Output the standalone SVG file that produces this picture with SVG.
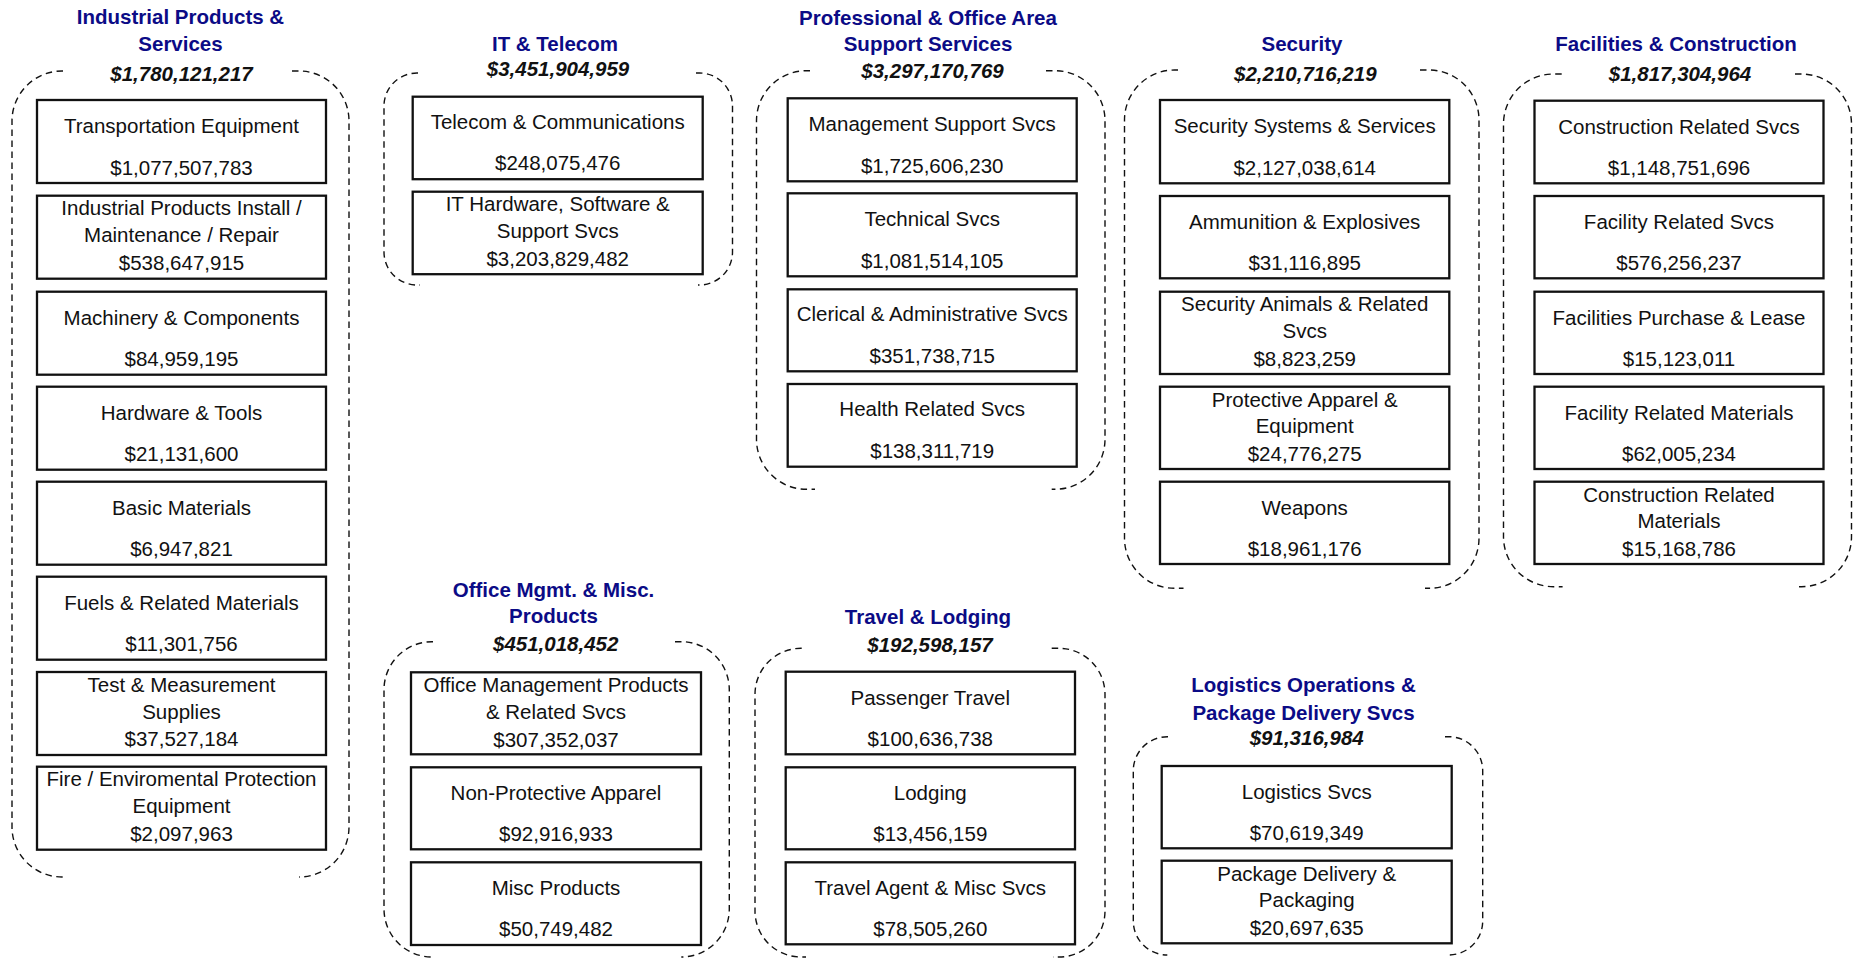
<svg xmlns="http://www.w3.org/2000/svg" width="1853" height="960" viewBox="0 0 1853 960">
<style>
.bg{fill:#fff}
.box{fill:#fff;stroke:#111;stroke-width:2.3}
.dash{fill:none;stroke:#111;stroke-width:1.4;stroke-dasharray:6.5 4.5}
text{font-family:"Liberation Sans",Arial,sans-serif;font-size:20.5px;text-anchor:middle;fill:#111}
.title{font-weight:bold;fill:#0b0b86}
.amt{font-weight:bold;font-style:italic;fill:#111}
</style>
<rect class="bg" x="0" y="0" width="1853" height="960"/>
<g id="connectors"></g>

<!-- Industrial Products & Services -->
<g id="grp-industrial">
<path class="dash" d="M63,71 L62,71 A50,50 0 0 0 12,121 L12,827 A50,50 0 0 0 62,877 L67,877"/>
<path class="dash" d="M292,71 L299,71 A50,50 0 0 1 349,121 L349,827 A50,50 0 0 1 299,877"/>
<text class="title" x="180.5" y="24.3">Industrial Products &amp;</text>
<text class="title" x="180.5" y="50.5">Services</text>
<text class="amt" x="181.5" y="81">$1,780,121,217</text>
</g>
<g id="n-transport"><rect class="box" x="37" y="100" width="289" height="83"/><text x="181.5" y="133.3">Transportation Equipment</text><text x="181.5" y="174.5">$1,077,507,783</text></g>
<g id="n-indinstall"><rect class="box" x="37" y="195.7" width="289" height="83"/><text x="181.5" y="215.2">Industrial Products Install /</text><text x="181.5" y="242.2">Maintenance / Repair</text><text x="181.5" y="269.7">$538,647,915</text></g>
<g id="n-machinery"><rect class="box" x="37" y="291.7" width="289" height="83"/><text x="181.5" y="325">Machinery &amp; Components</text><text x="181.5" y="366.2">$84,959,195</text></g>
<g id="n-hardware"><rect class="box" x="37" y="386.7" width="289" height="83"/><text x="181.5" y="420">Hardware &amp; Tools</text><text x="181.5" y="461.2">$21,131,600</text></g>
<g id="n-basic"><rect class="box" x="37" y="481.7" width="289" height="83"/><text x="181.5" y="515">Basic Materials</text><text x="181.5" y="556.2">$6,947,821</text></g>
<g id="n-fuels"><rect class="box" x="37" y="576.7" width="289" height="83"/><text x="181.5" y="610">Fuels &amp; Related Materials</text><text x="181.5" y="651.2">$11,301,756</text></g>
<g id="n-test"><rect class="box" x="37" y="672" width="289" height="83"/><text x="181.5" y="691.5">Test &amp; Measurement</text><text x="181.5" y="718.5">Supplies</text><text x="181.5" y="746">$37,527,184</text></g>
<g id="n-fire"><rect class="box" x="37" y="766.7" width="289" height="83"/><text x="181.5" y="786.2">Fire / Enviromental Protection</text><text x="181.5" y="813.2">Equipment</text><text x="181.5" y="840.7">$2,097,963</text></g>

<!-- IT & Telecom -->
<g id="grp-it">
<path class="dash" d="M418,73 L417,73 A33,33 0 0 0 384,106 L384,252 A33,33 0 0 0 417,285 L420,285"/>
<path class="dash" d="M696,73 L699.5,73 A33,33 0 0 1 732.5,106 L732.5,252 A33,33 0 0 1 699.5,285 L698,285"/>
<text class="title" x="555" y="50.5">IT &amp; Telecom</text>
<text class="amt" x="558" y="76">$3,451,904,959</text>
</g>
<g id="n-telecom"><rect class="box" x="412.7" y="96.7" width="290" height="82.5"/><text x="557.7" y="128.7">Telecom &amp; Communications</text><text x="557.7" y="170.2">$248,075,476</text></g>
<g id="n-ithw"><rect class="box" x="412.7" y="191.7" width="290" height="82.5"/><text x="557.7" y="211.4">IT Hardware, Software &amp;</text><text x="557.7" y="238.3">Support Svcs</text><text x="557.7" y="265.7">$3,203,829,482</text></g>

<!-- Professional & Office Area Support Services -->
<g id="grp-prof">
<path class="dash" d="M810,70.7 L806.5,70.7 A50,50 0 0 0 756.5,120.7 L756.5,439.3 A50,50 0 0 0 806.5,489.3 L815,489.3"/>
<path class="dash" d="M1046,70.7 L1055,70.7 A50,50 0 0 1 1105,120.7 L1105,439.3 A50,50 0 0 1 1055,489.3 L1051.7,489.3"/>
<text class="title" x="928" y="24.5">Professional &amp; Office Area</text>
<text class="title" x="928" y="50.5">Support Services</text>
<text class="amt" x="932.5" y="77.5">$3,297,170,769</text>
</g>
<g id="n-mgmt"><rect class="box" x="787.7" y="98.3" width="289" height="83"/><text x="932.2" y="130.5">Management Support Svcs</text><text x="932.2" y="173">$1,725,606,230</text></g>
<g id="n-technical"><rect class="box" x="787.7" y="193.3" width="289" height="83"/><text x="932.2" y="225.5">Technical Svcs</text><text x="932.2" y="267.5">$1,081,514,105</text></g>
<g id="n-clerical"><rect class="box" x="787.7" y="289.3" width="289" height="82"/><text x="932.2" y="321.3">Clerical &amp; Administrative Svcs</text><text x="932.2" y="362.5">$351,738,715</text></g>
<g id="n-health"><rect class="box" x="787.7" y="384" width="289" height="82.7"/><text x="932.2" y="416">Health Related Svcs</text><text x="932.2" y="457.5">$138,311,719</text></g>

<!-- Security -->
<g id="grp-security">
<path class="dash" d="M1178,70 L1174.5,70 A50,50 0 0 0 1124.5,120 L1124.5,538.3 A50,50 0 0 0 1174.5,588.3 L1183.5,588.3"/>
<path class="dash" d="M1420,70 L1429,70 A50,50 0 0 1 1479,120 L1479,538.3 A50,50 0 0 1 1429,588.3 L1425,588.3"/>
<text class="title" x="1302" y="50.5">Security</text>
<text class="amt" x="1305.3" y="81">$2,210,716,219</text>
</g>
<g id="n-secsys"><rect class="box" x="1160" y="100" width="289.3" height="83.3"/><text x="1304.7" y="133.3">Security Systems &amp; Services</text><text x="1304.7" y="174.5">$2,127,038,614</text></g>
<g id="n-ammo"><rect class="box" x="1160" y="196" width="289.3" height="82.3"/><text x="1304.7" y="229.3">Ammunition &amp; Explosives</text><text x="1304.7" y="270.3">$31,116,895</text></g>
<g id="n-animals"><rect class="box" x="1160" y="291.7" width="289.3" height="82.3"/><text x="1304.7" y="310.8">Security Animals &amp; Related</text><text x="1304.7" y="337.8">Svcs</text><text x="1304.7" y="365.8">$8,823,259</text></g>
<g id="n-protective"><rect class="box" x="1160" y="386.7" width="289.3" height="82.3"/><text x="1304.7" y="406.5">Protective Apparel &amp;</text><text x="1304.7" y="433.3">Equipment</text><text x="1304.7" y="460.8">$24,776,275</text></g>
<g id="n-weapons"><rect class="box" x="1160" y="481.7" width="289.3" height="82.3"/><text x="1304.7" y="515">Weapons</text><text x="1304.7" y="556">$18,961,176</text></g>

<!-- Facilities & Construction -->
<g id="grp-facilities">
<path class="dash" d="M1561.7,74 L1553.5,74 A50,50 0 0 0 1503.5,124 L1503.5,536.7 A50,50 0 0 0 1553.5,586.7 L1562.6,586.7"/>
<path class="dash" d="M1795,74 L1801.5,74 A50,50 0 0 1 1851.5,124 L1851.5,536.7 A50,50 0 0 1 1801.5,586.7 L1795,586.7"/>
<text class="title" x="1676" y="50.5">Facilities &amp; Construction</text>
<text class="amt" x="1680" y="81">$1,817,304,964</text>
</g>
<g id="n-constsvcs"><rect class="box" x="1534.5" y="100.7" width="289" height="82.6"/><text x="1679" y="133.5">Construction Related Svcs</text><text x="1679" y="174.7">$1,148,751,696</text></g>
<g id="n-facsvcs"><rect class="box" x="1534.5" y="196" width="289" height="82.3"/><text x="1679" y="229.3">Facility Related Svcs</text><text x="1679" y="270.3">$576,256,237</text></g>
<g id="n-facpurch"><rect class="box" x="1534.5" y="291.7" width="289" height="82.3"/><text x="1679" y="325">Facilities Purchase &amp; Lease</text><text x="1679" y="366">$15,123,011</text></g>
<g id="n-facmat"><rect class="box" x="1534.5" y="386.7" width="289" height="82.3"/><text x="1679" y="420">Facility Related Materials</text><text x="1679" y="461">$62,005,234</text></g>
<g id="n-constmat"><rect class="box" x="1534.5" y="481.7" width="289" height="82.3"/><text x="1679" y="501.5">Construction Related</text><text x="1679" y="528.3">Materials</text><text x="1679" y="555.8">$15,168,786</text></g>

<!-- Office Mgmt. & Misc. Products -->
<g id="grp-office">
<path class="dash" d="M433,641.7 L432,641.7 A48,48 0 0 0 384,689.7 L384,909 A48,48 0 0 0 432,957"/>
<path class="dash" d="M675,641.7 L681.3,641.7 A48,48 0 0 1 729.3,689.7 L729.3,909 A48,48 0 0 1 681.3,957"/>
<text class="title" x="553.5" y="596.7">Office Mgmt. &amp; Misc.</text>
<text class="title" x="553.5" y="623.3">Products</text>
<text class="amt" x="555.7" y="650.7">$451,018,452</text>
</g>
<g id="n-officemgmt"><rect class="box" x="411" y="672.3" width="290" height="82"/><text x="556" y="692">Office Management Products</text><text x="556" y="719">&amp; Related Svcs</text><text x="556" y="746.5">$307,352,037</text></g>
<g id="n-nonprot"><rect class="box" x="411" y="767.3" width="290" height="82"/><text x="556" y="799.5">Non-Protective Apparel</text><text x="556" y="841">$92,916,933</text></g>
<g id="n-misc"><rect class="box" x="411" y="862.3" width="290" height="82.7"/><text x="556" y="894.5">Misc Products</text><text x="556" y="936">$50,749,482</text></g>

<!-- Travel & Lodging -->
<g id="grp-travel">
<path class="dash" d="M801.7,648.3 L801,648.3 A46,46 0 0 0 755,694.3 L755,911 A46,46 0 0 0 801,957 L806,957"/>
<path class="dash" d="M1051.7,648.3 L1059,648.3 A46,46 0 0 1 1105,694.3 L1105,911 A46,46 0 0 1 1059,957 L1053,957"/>
<text class="title" x="928" y="624">Travel &amp; Lodging</text>
<text class="amt" x="930" y="651.7">$192,598,157</text>
</g>
<g id="n-passenger"><rect class="box" x="785.7" y="671.7" width="289.3" height="82.6"/><text x="930.3" y="704.5">Passenger Travel</text><text x="930.3" y="746">$100,636,738</text></g>
<g id="n-lodging"><rect class="box" x="785.7" y="767.3" width="289.3" height="82"/><text x="930.3" y="799.5">Lodging</text><text x="930.3" y="841">$13,456,159</text></g>
<g id="n-travelagent"><rect class="box" x="785.7" y="862.3" width="289.3" height="82"/><text x="930.3" y="894.5">Travel Agent &amp; Misc Svcs</text><text x="930.3" y="936">$78,505,260</text></g>

<!-- Logistics Operations & Package Delivery Svcs -->
<g id="grp-logistics">
<path class="dash" d="M1168,736.7 L1167.3,736.7 A34,34 0 0 0 1133.3,770.7 L1133.3,921 A34,34 0 0 0 1167.3,955"/>
<path class="dash" d="M1445,736.7 L1448.7,736.7 A34,34 0 0 1 1482.7,770.7 L1482.7,921 A34,34 0 0 1 1448.7,955 L1446.7,955"/>
<text class="title" x="1303.5" y="691.7">Logistics Operations &amp;</text>
<text class="title" x="1303.5" y="720">Package Delivery Svcs</text>
<text class="amt" x="1306.7" y="745">$91,316,984</text>
</g>
<g id="n-logsvcs"><rect class="box" x="1161.7" y="766" width="290" height="82.3"/><text x="1306.7" y="798.5">Logistics Svcs</text><text x="1306.7" y="840">$70,619,349</text></g>
<g id="n-package"><rect class="box" x="1161.7" y="860.7" width="290" height="82.6"/><text x="1306.7" y="880.5">Package Delivery &amp;</text><text x="1306.7" y="907.3">Packaging</text><text x="1306.7" y="934.7">$20,697,635</text></g>
</svg>
